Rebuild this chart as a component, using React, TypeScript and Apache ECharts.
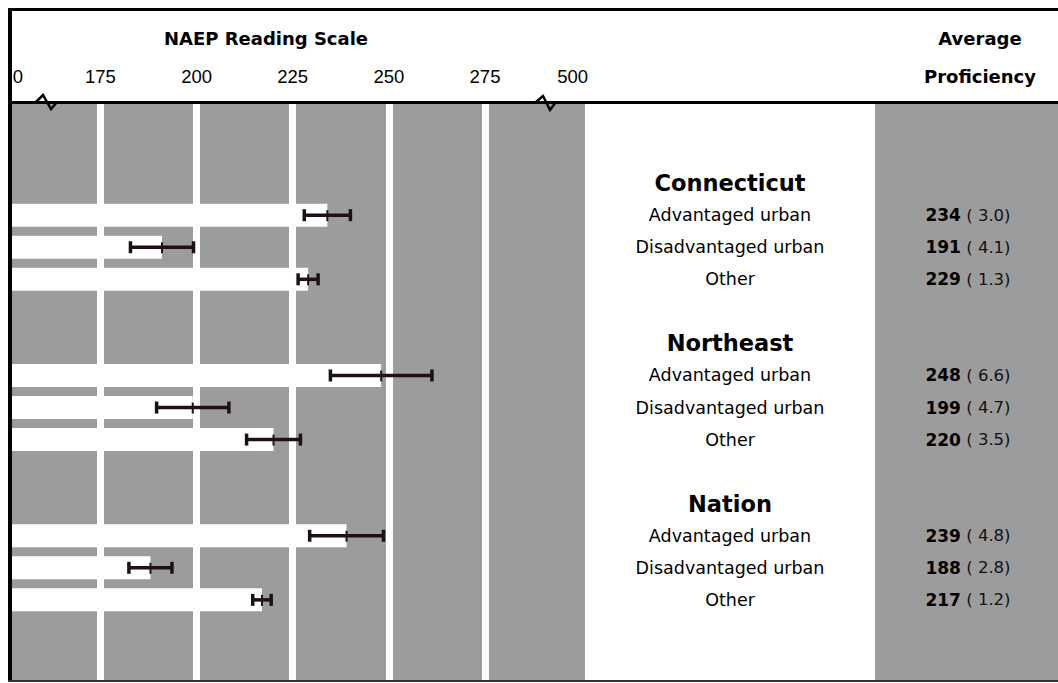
import React, { useEffect, useRef } from "react";
import * as echarts from "echarts";

// ---- data ----
const groups = ["Connecticut", "Northeast", "Nation"];
const subgroups = ["Advantaged urban", "Disadvantaged urban", "Other"];
const ctMeans = [234, 191, 229];
const ctSE = [3.0, 4.1, 1.3];
const neMeans = [248, 199, 220];
const neSE = [6.6, 4.7, 3.5];
const nationMeans = [239, 188, 217];
const nationSE = [4.8, 2.8, 1.2];
const gridValues = [175, 200, 225, 250, 275];
const tickLabels = ["0", "175", "200", "225", "250", "275", "500"];
// positions on the broken scale where the tick labels sit ("0" and "500" are break labels)
const tickPositions = [153.5, 175, 200, 225, 250, 275, 297.8];

const GRAY = "#9c9c9c";

type Row = { kind: "blank" | "group" | "sub"; label: string; mean?: number; se?: number };

function buildRows(): Row[] {
  const means = [ctMeans, neMeans, nationMeans];
  const ses = [ctSE, neSE, nationSE];
  const rows: Row[] = [{ kind: "blank", label: "" }, { kind: "blank", label: "" }];
  groups.forEach((g, gi) => {
    if (gi > 0) rows.push({ kind: "blank", label: "" });
    rows.push({ kind: "group", label: g });
    subgroups.forEach((s, si) => {
      rows.push({ kind: "sub", label: s, mean: means[gi][si], se: ses[gi][si] });
    });
  });
  rows.push({ kind: "blank", label: "" }, { kind: "blank", label: "" });
  return rows;
}

export default function App() {
  const ref = useRef<HTMLDivElement>(null);
  useEffect(() => {
    if (!ref.current) return;
    const chart = echarts.init(ref.current, undefined, { renderer: "svg" });
    const rows = buildRows();
    const cats = rows.map((_, i) => "r" + i);
    const barData = rows.map((r) => (r.kind === "sub" ? r.mean : "-"));
    const errData = rows
      .map((r, i) => (r.kind === "sub" ? [i, r.mean as number, r.se as number] : null))
      .filter((d) => d !== null);

    const option: any = {
      animation: false,
      backgroundColor: "#ffffff",
      grid: {
        left: 12,
        top: 103,
        width: 573,
        height: 577,
        show: true,
        backgroundColor: GRAY,
        borderWidth: 0,
      },
      xAxis: {
        type: "value",
        position: "top",
        min: 152,
        max: 301,
        axisLine: { show: false },
        axisTick: { show: false },
        splitLine: { show: false },
        axisLabel: {
          customValues: tickPositions,
          formatter: (v: number) => {
            const i = tickPositions.findIndex((p) => Math.abs(p - v) < 1e-6);
            return i >= 0 ? tickLabels[i] : "";
          },
          margin: 17,
          color: "#000",
          fontSize: 18.5,
          fontFamily: "Liberation Sans",
        },
      },
      yAxis: [
        {
          type: "category",
          data: cats,
          inverse: true,
          position: "right",
          axisLine: { show: false },
          axisTick: { show: false },
          splitLine: { show: false },
          axisLabel: {
            interval: 0,
            margin: 145,
            align: "center",
            formatter: (_: string, idx: number) => {
              const r = rows[idx];
              if (r.kind === "group") return "{g|" + r.label + "}";
              if (r.kind === "sub") return "{s|" + r.label + "}";
              return "";
            },
            rich: {
              g: { fontFamily: "DejaVu Sans", fontWeight: "bold", fontSize: 22.5, color: "#000" },
              s: { fontFamily: "DejaVu Sans", fontSize: 17.5, color: "#000" },
            },
          },
        },
        {
          type: "category",
          data: cats,
          inverse: true,
          position: "right",
          axisLine: { show: false },
          axisTick: { show: false },
          splitLine: { show: false },
          axisLabel: {
            interval: 0,
            margin: 383,
            align: "center",
            formatter: (_: string, idx: number) => {
              const r = rows[idx];
              if (r.kind === "sub") return "{v|" + r.mean + "}{p| ( " + (r.se as number).toFixed(1) + ")}";
              return "";
            },
            rich: {
              v: { fontFamily: "DejaVu Sans", fontWeight: "bold", fontSize: 17, color: "#000" },
              p: { fontFamily: "DejaVu Sans", fontSize: 16.5, color: "#111" },
            },
          },
        },
      ],
      series: [
        {
          type: "bar",
          data: barData,
          yAxisIndex: 0,
          barWidth: 23,
          itemStyle: { color: "#ffffff" },
          clip: true,
          silent: true,
          z: 2,
          markLine: {
            silent: true,
            symbol: "none",
            label: { show: false },
            lineStyle: { color: "#ffffff", width: 7, type: "solid" },
            data: gridValues.map((v) => ({ xAxis: v })),
          },
        },
        {
          type: "custom",
          yAxisIndex: 0,
          data: errData,
          encode: { x: 1, y: 0 },
          z: 5,
          silent: true,
          renderItem: (params: any, api: any) => {
            const idx = api.value(0);
            const m = api.value(1);
            const se = api.value(2);
            const lo = api.coord([m - 2 * se, idx]);
            const hi = api.coord([m + 2 * se, idx]);
            const mid = api.coord([m, idx]);
            const style = { stroke: "#1c1212", lineWidth: 3.5 };
            const cap = 6;
            return {
              type: "group",
              children: [
                { type: "line", shape: { x1: lo[0], y1: lo[1], x2: hi[0], y2: hi[1] }, style },
                { type: "line", shape: { x1: lo[0], y1: lo[1] - cap, x2: lo[0], y2: lo[1] + cap }, style },
                { type: "line", shape: { x1: hi[0], y1: hi[1] - cap, x2: hi[0], y2: hi[1] + cap }, style },
                {
                  type: "line",
                  shape: { x1: mid[0], y1: mid[1] - 5, x2: mid[0], y2: mid[1] + 6 },
                  style: { stroke: "#1c1212", lineWidth: 2 },
                },
              ],
            };
          },
        },
      ],
      graphic: [
        { type: "rect", z: -1, shape: { x: 875, y: 104, width: 183, height: 576 }, style: { fill: GRAY } },
        { type: "rect", z: 10, shape: { x: 8, y: 8, width: 1050, height: 3 }, style: { fill: "#000" } },
        { type: "rect", z: 10, shape: { x: 8, y: 8, width: 4, height: 674 }, style: { fill: "#000" } },
        { type: "rect", z: 10, shape: { x: 12, y: 101, width: 1046, height: 3 }, style: { fill: "#000" } },
        { type: "rect", z: 10, shape: { x: 8, y: 680, width: 1050, height: 2 }, style: { fill: "#333" } },
        {
          type: "polyline",
          z: 11,
          shape: { points: [[36, 102], [43, 95], [51, 109], [57, 102]] },
          style: { stroke: "#000", lineWidth: 2.5, fill: "none" },
        },
        {
          type: "polyline",
          z: 11,
          shape: { points: [[536, 102], [543, 96], [550, 110], [556, 102]] },
          style: { stroke: "#000", lineWidth: 2.5, fill: "none" },
        },
        {
          type: "text",
          z: 11,
          x: 266,
          y: 38,
          style: {
            text: "NAEP Reading Scale",
            fill: "#000",
            font: "bold 18px 'DejaVu Sans'",
            align: "center",
            verticalAlign: "middle",
          },
        },
        {
          type: "text",
          z: 11,
          x: 980,
          y: 38,
          style: {
            text: "Average",
            fill: "#000",
            font: "bold 18px 'DejaVu Sans'",
            align: "center",
            verticalAlign: "middle",
          },
        },
        {
          type: "text",
          z: 11,
          x: 980,
          y: 76,
          style: {
            text: "Proficiency",
            fill: "#000",
            font: "bold 18px 'DejaVu Sans'",
            align: "center",
            verticalAlign: "middle",
          },
        },
      ],
    };
    chart.setOption(option);
    return () => chart.dispose();
  }, []);
  return (
    <div
      ref={ref}
      style={{ position: "fixed", left: 0, top: 0, width: 1058, height: 683, background: "#fff" }}
    />
  );
}
